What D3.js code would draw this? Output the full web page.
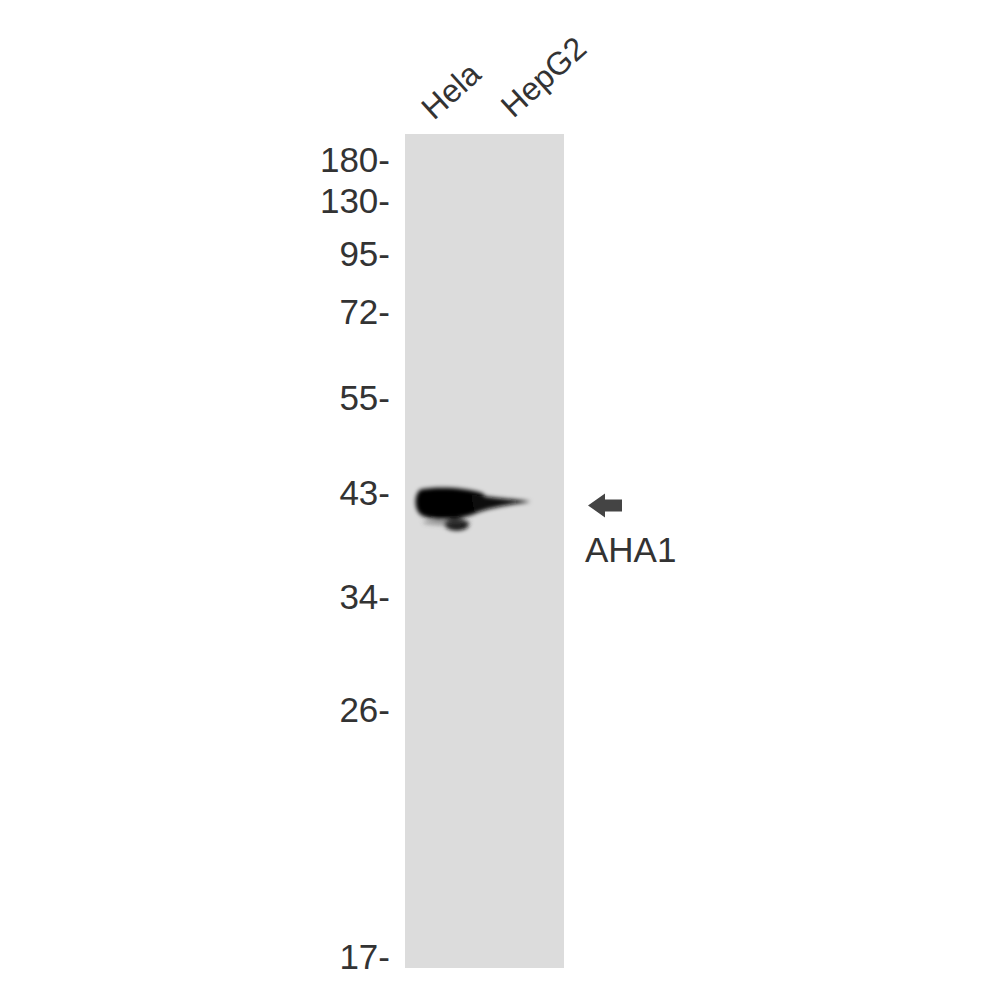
<!DOCTYPE html>
<html>
<head>
<meta charset="utf-8">
<script src="https://cdn.jsdelivr.net/npm/d3@7"></script>
<style>
  html, body { margin: 0; padding: 0; background: #fff; }
  svg text { font-family: 'Liberation Sans', Arial, sans-serif; fill: #333; }
</style>
</head>
<body>
<div id="blot"></div>
<script>
// Marker ladder (kDa) and where each band of the ladder ran to
const markers = [180, 130, 95, 72, 55, 43, 34, 26, 17];
const markerRun = [160, 201, 254, 312, 398, 493, 597, 710, 957];

// Lanes across the membrane
const lanes = ['Hela', 'HepG2'];

// Detected bands: lane, apparent weight, relative strength
const bands = [
  { lane: 'Hela', mw: 42, strength: 1.0 },
];

const target = 'AHA1';
const targetMw = 42;

const width = 1000;
const height = 1000;

const svg = d3
  .select('#blot')
  .append('svg')
  .attr('width', width)
  .attr('height', height);

// Migration scale: weight -> vertical position, piecewise on log scale
const y = d3.scaleLog().domain(markers).range(markerRun);

// Lane positions across the membrane
const x = d3.scaleBand().domain(lanes).range([405, 564]).padding(0);

const membraneTop = 134;
const membraneBottom = 968;

const defs = svg.append('defs');
defs
  .append('filter')
  .attr('id', 'soft')
  .attr('x', '-30%')
  .attr('y', '-60%')
  .attr('width', '160%')
  .attr('height', '220%')
  .append('feGaussianBlur')
  .attr('stdDeviation', 2.2);

// The membrane
svg
  .append('rect')
  .attr('x', x.range()[0])
  .attr('y', membraneTop)
  .attr('width', x.range()[1] - x.range()[0])
  .attr('height', membraneBottom - membraneTop)
  .attr('fill', '#dcdcdc');

// Bands, each shaped around its lane centre
const bandG = svg
  .selectAll('g.band')
  .data(bands)
  .enter()
  .append('g')
  .attr('class', 'band')
  .attr('filter', 'url(#soft)')
  .attr('opacity', (d) => d.strength)
  .attr('transform', (d) => {
    const cx = x(d.lane) + x.bandwidth() / 2;
    return 'translate(' + cx + ',' + y(d.mw) + ')';
  });

// main blob
bandG
  .append('path')
  .attr(
    'd',
    'M-24,-14 C-8,-17 22,-16 38,-10 C44,-5 40,6 28,11 C12,17 -14,17 -23,12 C-31,8 -31,-10 -24,-14 Z'
  )
  .attr('fill', '#000');

// tail running into the next lane
bandG
  .append('path')
  .attr('d', 'M26,-9 C46,-6 66,-4 86,-2 C66,1 46,4 30,10 Z')
  .attr('fill', '#0a0a0a');

// smear underneath
bandG
  .append('ellipse')
  .attr('cx', 12)
  .attr('cy', 21)
  .attr('rx', 12)
  .attr('ry', 6)
  .attr('fill', '#111');

bandG
  .append('ellipse')
  .attr('cx', 2)
  .attr('cy', 19)
  .attr('rx', 24)
  .attr('ry', 3)
  .attr('fill', '#555')
  .attr('opacity', 0.5);

// Marker labels on the left
svg
  .selectAll('text.marker')
  .data(markers)
  .enter()
  .append('text')
  .attr('class', 'marker')
  .attr('x', 390)
  .attr('y', (d) => y(d) + 12)
  .attr('text-anchor', 'end')
  .style('font-size', '35px')
  .text((d) => d + '-');

// Lane labels, tilted
svg
  .selectAll('text.lane')
  .data(lanes)
  .enter()
  .append('text')
  .attr('class', 'lane')
  .attr('transform', (d, i) => {
    const lx = x(d) + x.bandwidth() / 2 - 11;
    const ly = 121 - i * 2;
    return 'translate(' + lx + ',' + ly + ') rotate(-42)';
  })
  .style('font-size', '32px')
  .text((d) => d);

// Arrow and target name on the right
const ay = y(targetMw) + 2;
svg
  .append('path')
  .attr(
    'd',
    'M588,' + ay +
      ' L605,' + (ay - 12) +
      ' L605,' + (ay - 6) +
      ' L622,' + (ay - 6) +
      ' L622,' + (ay + 6) +
      ' L605,' + (ay + 6) +
      ' L605,' + (ay + 12) +
      ' Z'
  )
  .attr('fill', '#444');

svg
  .append('text')
  .attr('x', 585)
  .attr('y', ay + 57)
  .style('font-size', '35px')
  .text(target);
</script>
</body>
</html>
